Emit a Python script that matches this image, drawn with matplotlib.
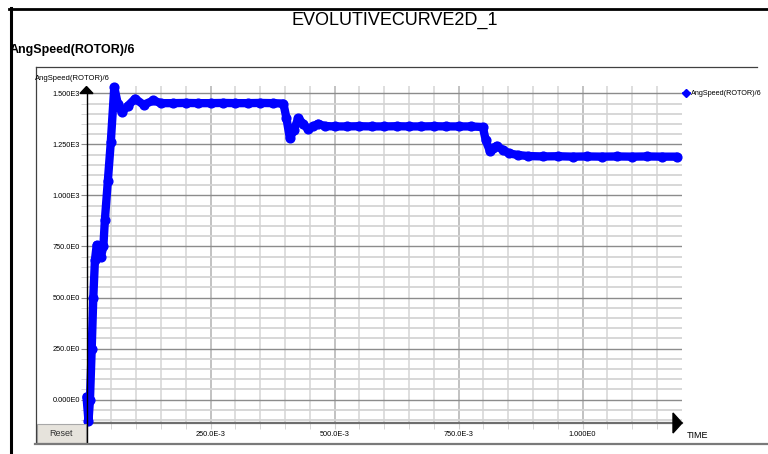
import matplotlib
matplotlib.use("Agg")
import matplotlib.pyplot as plt
from matplotlib.lines import Line2D
from matplotlib.patches import Polygon, FancyBboxPatch

plt.rcParams['font.family'] = ['Liberation Sans Narrow', 'Liberation Sans', 'DejaVu Sans']

# data
time = [0.0, 0.004, 0.007, 0.0105, 0.0137, 0.017, 0.0206, 0.027, 0.029, 0.034,
        0.037, 0.043, 0.049, 0.056, 0.063, 0.071, 0.084, 0.098, 0.115, 0.135,
        0.15, 0.175, 0.2, 0.225, 0.25, 0.275, 0.3, 0.325, 0.35, 0.375,
        0.397, 0.403, 0.41, 0.418, 0.427, 0.437, 0.447, 0.457, 0.467, 0.48,
        0.5, 0.525, 0.55, 0.575, 0.6, 0.625, 0.65, 0.675, 0.7, 0.725,
        0.75, 0.775, 0.799, 0.805, 0.813, 0.82, 0.827, 0.84, 0.852, 0.87,
        0.89, 0.92, 0.95, 0.98, 1.01, 1.04, 1.07, 1.10, 1.13, 1.16, 1.19]
speed = [15, -105, 0, 250, 500, 683, 757, 750, 700, 750,
         878, 1070, 1262, 1530, 1450, 1408, 1440, 1474, 1444, 1465,
         1452, 1452, 1453, 1452, 1452, 1453, 1452, 1452, 1453, 1452,
         1450, 1380, 1280, 1320, 1378, 1350, 1324, 1338, 1351, 1340,
         1338, 1338, 1339, 1338, 1338, 1339, 1338, 1338, 1339, 1338,
         1338, 1338, 1335, 1270, 1219, 1232, 1243, 1222, 1206, 1198,
         1193, 1191, 1192, 1190, 1191, 1190, 1191, 1190, 1191, 1190, 1190]

y_major = [0, 250, 500, 750, 1000, 1250, 1500]
y_labels = ['0.000E0', '250.0E0', '500.0E0', '750.0E0', '1.000E3', '1.250E3', '1.500E3']
x_major = [0.25, 0.5, 0.75, 1.0]
x_labels = ['250.0E-3', '500.0E-3', '750.0E-3', '1.000E0']
series_name = 'AngSpeed(ROTOR)/6'

W, H = 768, 454
fig = plt.figure(figsize=(W / 100, H / 100), dpi=100)
fig.patch.set_facecolor('white')


def fx(px):
    return px / W


def fy(py):
    return 1 - py / H


# plot area
ax = fig.add_axes([fx(86.5), fy(422.5), (681.7 - 86.5) / W, (422.5 - 86) / H])
ax.set_xlim(0, 1.2)
ax.set_ylim(-112, 1536)
for s in ax.spines.values():
    s.set_visible(False)
ax.spines['bottom'].set_visible(True)
ax.spines['bottom'].set_color('#6e6e6e')
ax.spines['bottom'].set_linewidth(1.6)

ax.set_yticks(y_major)
ax.set_yticklabels(y_labels)
ax.set_yticks([v for v in range(-100, 1501, 50)], minor=True)
ax.set_xticks(x_major)
ax.set_xticklabels(x_labels)
ax.set_xticks([i * 0.05 for i in range(1, 24)], minor=True)

ax.set_axisbelow(True)
ax.grid(which='major', axis='y', color='#8c8c8c', lw=1.0)
ax.grid(which='minor', axis='y', color='#d4d4d4', lw=1.3)
ax.grid(which='major', axis='x', color='#bdbdbd', lw=1.3)
ax.grid(which='minor', axis='x', color='#d8d8d8', lw=1.2)

ax.tick_params(axis='y', which='major', length=4.3, color='#8c8c8c', labelsize=5.3, pad=0.5)
ax.tick_params(axis='y', which='minor', length=4.3, color='#d0d0d0')
ax.tick_params(axis='x', which='both', length=4.3, color='#d0d0d0', labelsize=5.3, pad=1.5)

# the thick blue curve, markers only a little wider than the line
ax.plot(time, speed, color='#0000ff', lw=6.0, marker='o', ms=6.3,
        solid_joinstyle='round', solid_capstyle='round', clip_on=False, zorder=5)

handle = Line2D([], [], color='#0000ff', lw=1.2, marker='D', ms=4)
ax.legend([handle], [series_name], loc='center left', frameon=False, fontsize=5.2,
          bbox_to_anchor=(fx(683), fy(93.5)), bbox_transform=fig.transFigure,
          borderpad=0, borderaxespad=0, handlelength=0.9, handletextpad=0.25)

# y axis line with arrow
fig.add_artist(Line2D([fx(86.5), fx(86.5)], [fy(443), fy(90)], color='black', lw=1.0))
fig.add_artist(Polygon([(fx(80), fy(93.5)), (fx(93), fy(93.5)), (fx(86.5), fy(86.5))],
                       closed=True, color='black', transform=fig.transFigure))
# x axis arrow
fig.add_artist(Polygon([(fx(673), fy(413)), (fx(673), fy(433)), (fx(682), fy(423))],
                       closed=True, color='black', transform=fig.transFigure))

# outer frame lines
fig.add_artist(Line2D([fx(10.5), fx(10.5)], [fy(454), fy(8)], color='black', lw=2.2))
fig.add_artist(Line2D([fx(9), fx(768)], [fy(8.5), fy(8.5)], color='black', lw=2.0))
# inner frame
fig.add_artist(Line2D([fx(35.5), fx(757)], [fy(67), fy(67)], color='#404040', lw=0.9))
fig.add_artist(Line2D([fx(35.5), fx(35.5)], [fy(67), fy(443)], color='#404040', lw=0.9))
fig.add_artist(Line2D([fx(35), fx(768)], [fy(443.5), fy(443.5)], color='#7a7a7a', lw=1.6))

# reset button
fig.add_artist(FancyBboxPatch((fx(36.5), fy(443)), fx(86) - fx(36.5), fy(423.5) - fy(443),
                              boxstyle='square,pad=0', transform=fig.transFigure,
                              facecolor='#e6e3dc', edgecolor='#a8a8a8', lw=0.8))
fig.text(fx(61), fy(433), 'Reset', ha='center', va='center', fontsize=6.5, color='#333333')

# texts
fig.text(fx(395), fy(20), 'EVOLUTIVECURVE2D_1', ha='center', va='center', fontsize=13)
fig.text(fx(10), fy(50), series_name, ha='left', va='center', fontsize=9, fontweight='bold')
fig.text(fx(35), fy(78), series_name, ha='left', va='center', fontsize=5.5)
fig.text(fx(687), fy(436), 'TIME', ha='left', va='center', fontsize=6.5)

fig.savefig('out.png', dpi=100)
